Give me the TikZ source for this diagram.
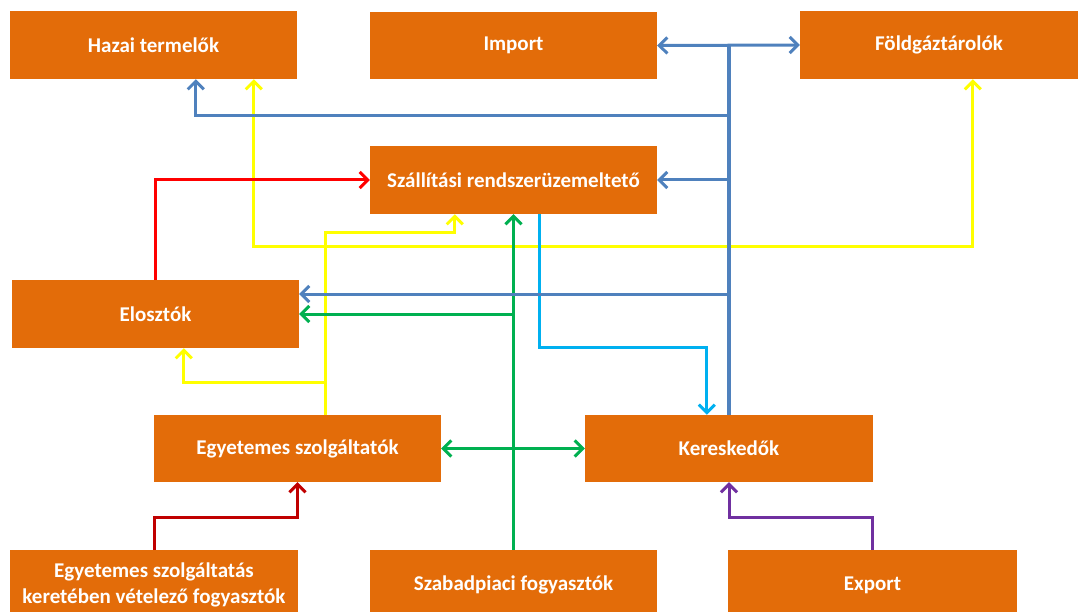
\documentclass[tikz,border=0pt]{standalone}
\usepackage{fontspec}
\setmainfont{Carlito}
\usetikzlibrary{arrows.meta}
\definecolor{boxorange}{HTML}{E36C09}
\definecolor{lblue}{HTML}{4F81BD}
\definecolor{lyellow}{HTML}{FFFF00}
\definecolor{lred}{HTML}{FF0000}
\definecolor{ldred}{HTML}{C00000}
\definecolor{lgreen}{HTML}{00B050}
\definecolor{lcyan}{HTML}{00B0F0}
\definecolor{lpurple}{HTML}{7030A0}
\tikzset{
  box/.style={fill=boxorange, draw=none, text=white, font=\bfseries\fontsize{21}{26}\selectfont, align=center, inner sep=0pt},
  conn/.style={line width=3pt, line join=miter, -{Straight Barb[length=8pt,width=16pt,line width=3pt]}},
  dconn/.style={line width=3pt, {Straight Barb[length=8pt,width=16pt,line width=3pt]}-{Straight Barb[length=8pt,width=16pt,line width=3pt]}},
  plain/.style={line width=3pt}
}
\begin{document}
\begin{tikzpicture}[x=1pt,y=-1pt]
\useasboundingbox (0,0) rectangle (1078,612);
% boxes
\node[box, minimum width=287pt, minimum height=68pt] (haz) at (153.5,45) {Hazai termelők};
\node[box, minimum width=287pt, minimum height=67pt] (imp) at (513.5,45.5) {Import};
\node[box, minimum width=278pt, minimum height=68pt] (fold) at (939,45) {Földgáztárolók};
\node[box, minimum width=287pt, minimum height=68pt] (szall) at (513.5,180) {Szállítási rendszerüzemeltető};
\node[box, minimum width=287pt, minimum height=68pt] (elo) at (155.5,314) {Elosztók};
\node[box, minimum width=287pt, minimum height=67pt] (egy) at (297.5,448.5) {Egyetemes szolgáltatók};
\node[box, minimum width=288pt, minimum height=67pt] (ker) at (729,448.5) {Kereskedők};
\node[box, minimum width=288pt, minimum height=70pt] (esz) at (154,585) {Egyetemes szolgáltatás\\keretében vételező fogyasztók};
\node[box, minimum width=287pt, minimum height=70pt] (szab) at (513.5,585) {Szabadpiaci fogyasztók};
\node[box, minimum width=289pt, minimum height=70pt] (exp) at (872.5,585) {Export};
% level coordinates
\coordinate (y116) at (0,116);
\coordinate (y233) at (0,233);
\coordinate (y247) at (0,247);
\coordinate (y294) at (0,294);
\coordinate (y314) at (0,314);
\coordinate (y347) at (0,347);
\coordinate (y382) at (0,382);
\coordinate (y517) at (0,517);
\coordinate (hazY) at ([xshift=244pt]haz.south west);
\coordinate (hazB) at ([xshift=186pt]haz.south west);
\coordinate (foldY) at ([xshift=173pt]fold.south west);
\coordinate (egyY) at ([xshift=172pt]egy.north west);
\coordinate (szallY) at ([xshift=85pt]szall.south west);
\coordinate (szallC) at ([xshift=170pt]szall.south west);
\coordinate (eloY) at ([xshift=172pt]elo.south west);
\coordinate (kerC) at ([xshift=122pt]ker.north west);
% yellow
\draw[dconn, lyellow] (hazY) |- (y247 -| foldY) -- (foldY);
\draw[conn, lyellow] (egyY) |- (y233 -| szallY) -- (szallY);
\draw[conn, lyellow] (egyY |- y382) -| (eloY);
% red
\draw[conn, lred] (elo.north) |- (szall.west);
% dark red
\draw[conn, ldred] (esz.north) |- (y517 -| egy.south) -- (egy.south);
% purple
\draw[conn, lpurple] (exp.north) |- (y517 -| ker.south) -- (ker.south);
% cyan
\draw[conn, lcyan] (szallC) |- (y347 -| kerC) -- (kerC);
% green
\draw[conn, lgreen] (szab.north) -- (szall.south);
\draw[conn, lgreen] (szab.north |- y314) -- (elo.east);
\draw[dconn, lgreen] (egy.east) -- (ker.west);
% blue
\draw[dconn, lblue] (imp.east) -- (fold.west);
\draw[plain, lblue, line width=3.5pt] (ker.north) -- (ker.north |- imp.east);
\draw[conn, lblue] (ker.north |- y116) -| (hazB);
\draw[conn, lblue] (ker.north |- szall.east) -- (szall.east);
\draw[conn, lblue] (ker.north |- y294) -- (elo.east |- y294);
\end{tikzpicture}
\end{document}
